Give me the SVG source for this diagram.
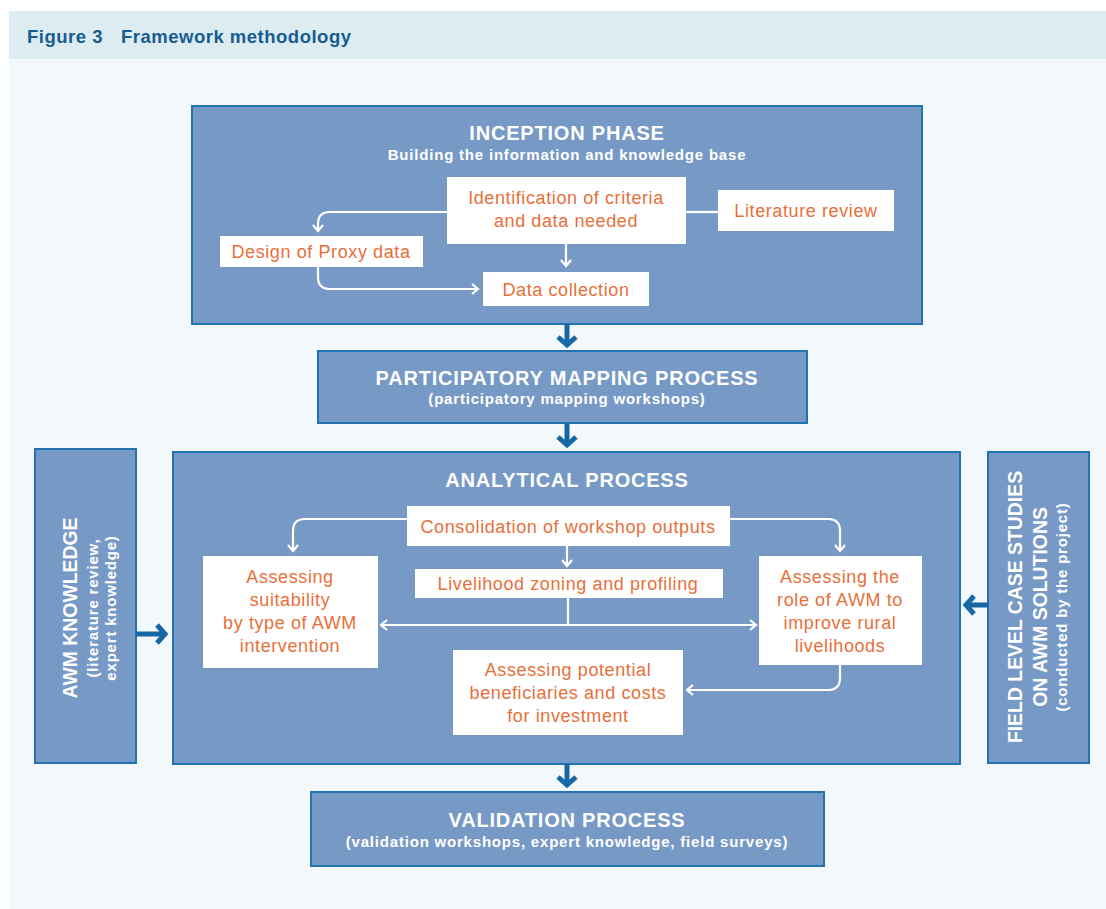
<svg xmlns="http://www.w3.org/2000/svg" width="1106" height="909" viewBox="0 0 1106 909">
<defs>
<style>
.blk{fill:#7799c6;stroke:#2373b2;stroke-width:2}
.wb{fill:#ffffff}
.ot{font-family:"Liberation Sans",Arial,sans-serif;font-size:18px;letter-spacing:0.6px;fill:#e86f39;text-anchor:middle}
.ht{font-family:"Liberation Sans",Arial,sans-serif;font-weight:bold;font-size:20px;letter-spacing:0.8px;fill:#ffffff;text-anchor:middle}
.vt{font-family:"Liberation Sans",Arial,sans-serif;font-weight:bold;font-size:19.4px;letter-spacing:0;fill:#ffffff;text-anchor:middle}
.st{font-family:"Liberation Sans",Arial,sans-serif;font-weight:bold;font-size:15px;letter-spacing:0.8px;fill:#ffffff;text-anchor:middle}
.wl{fill:none;stroke:#ffffff;stroke-width:2.2}
.bl{fill:none;stroke:#1667a6;stroke-width:5}
</style>
</defs>
<rect x="0" y="0" width="1106" height="909" fill="#ffffff"/>
<rect x="9" y="11" width="1097" height="898" fill="#f2f8fb"/>
<rect x="9" y="11" width="1097" height="48" fill="#dcecf1"/>
<text x="27" y="43" font-family="'Liberation Sans',Arial,sans-serif" font-weight="bold" font-size="18.5" letter-spacing="0.5" fill="#175d92">Figure 3<tspan x="121">Framework methodology</tspan></text>

<g id="inception">
<rect class="blk" x="192" y="106" width="730" height="218"/>
<text class="ht" x="567" y="140">INCEPTION PHASE</text>
<text class="st" x="567" y="160">Building the information and knowledge base</text>
</g>
<g id="identification">
<rect class="wb" x="447" y="177" width="239" height="67"/>
<text class="ot" x="566" y="204">Identification of criteria</text>
<text class="ot" x="566" y="227">and data needed</text>
</g>
<g id="literature">
<rect class="wb" x="718" y="190" width="176" height="41"/>
<text class="ot" x="806" y="217">Literature review</text>
</g>
<g id="proxy">
<rect class="wb" x="220" y="236" width="203" height="31"/>
<text class="ot" x="321" y="258">Design of Proxy data</text>
</g>
<g id="datacollection">
<rect class="wb" x="483" y="272" width="166" height="34"/>
<text class="ot" x="566" y="296">Data collection</text>
</g>

<g id="participatory">
<rect class="blk" x="318" y="351" width="489" height="72"/>
<text class="ht" x="567" y="385">PARTICIPATORY MAPPING PROCESS</text>
<text class="st" x="567" y="404">(participatory mapping workshops)</text>
</g>

<g id="analytical">
<rect class="blk" x="173" y="452" width="787" height="312"/>
<text class="ht" x="567" y="487">ANALYTICAL PROCESS</text>
</g>
<g id="consolidation">
<rect class="wb" x="407" y="506" width="323" height="40"/>
<text class="ot" x="568" y="533">Consolidation of workshop outputs</text>
</g>
<g id="livelihood">
<rect class="wb" x="415" y="569" width="308" height="29"/>
<text class="ot" x="568" y="590">Livelihood zoning and profiling</text>
</g>
<g id="suitability">
<rect class="wb" x="203" y="556" width="175" height="112"/>
<text class="ot" x="290" y="583">Assessing</text>
<text class="ot" x="290" y="606">suitability</text>
<text class="ot" x="290" y="629">by type of AWM</text>
<text class="ot" x="290" y="652">intervention</text>
</g>
<g id="role">
<rect class="wb" x="759" y="556" width="163" height="109"/>
<text class="ot" x="840" y="583">Assessing the</text>
<text class="ot" x="840" y="606">role of AWM to</text>
<text class="ot" x="840" y="629">improve rural</text>
<text class="ot" x="840" y="652">livelihoods</text>
</g>
<g id="potential">
<rect class="wb" x="453" y="650" width="230" height="85"/>
<text class="ot" x="568" y="676">Assessing  potential</text>
<text class="ot" x="568" y="699">beneficiaries and costs</text>
<text class="ot" x="568" y="722">for investment</text>
</g>

<g id="awmknowledge">
<rect class="blk" x="35" y="449" width="101" height="314"/>
<text class="vt" transform="translate(77,608) rotate(-90)">AWM KNOWLEDGE</text>
<text class="st" transform="translate(98,608) rotate(-90)">(literature review,</text>
<text class="st" transform="translate(116,608) rotate(-90)">expert knowledge)</text>
</g>
<g id="fieldlevel">
<rect class="blk" x="988" y="452" width="101" height="311"/>
<text class="vt" transform="translate(1022,607) rotate(-90)">FIELD LEVEL CASE STUDIES</text>
<text class="vt" transform="translate(1047,607) rotate(-90)">ON AWM SOLUTIONS</text>
<text class="st" transform="translate(1067,607) rotate(-90)">(conducted by the project)</text>
</g>

<g id="validation">
<rect class="blk" x="311" y="792" width="513" height="74"/>
<text class="ht" x="567" y="827">VALIDATION PROCESS</text>
<text class="st" x="567" y="847">(validation workshops, expert knowledge, field surveys)</text>
</g>

<g id="connectors">
<path class="wl" d="M447 212 H330 Q318 212 318 224 V231"/>
<path class="wl" d="M313 225 L318 231 L323 225"/>
<path class="wl" d="M686 212 H718"/>
<path class="wl" d="M566 244 V266"/>
<path class="wl" d="M561 260 L566 266 L571 260"/>
<path class="wl" d="M318 267 V277 Q318 289 330 289 H478"/>
<path class="wl" d="M472 284 L478 289 L472 294"/>
<path class="wl" d="M407 519 H305 Q293 519 293 531 V551"/>
<path class="wl" d="M288 545 L293 551 L298 545"/>
<path class="wl" d="M730 519 H828 Q840 519 840 531 V551"/>
<path class="wl" d="M835 545 L840 551 L845 545"/>
<path class="wl" d="M567 546 V566"/>
<path class="wl" d="M562 560 L567 566 L572 560"/>
<path class="wl" d="M568 598 V625"/>
<path class="wl" d="M381 625 H756"/>
<path class="wl" d="M387 620 L381 625 L387 630"/>
<path class="wl" d="M750 620 L756 625 L750 630"/>
<path class="wl" d="M840 665 V678 Q840 690 828 690 H687"/>
<path class="wl" d="M693 685 L687 690 L693 695"/>
<path class="bl" d="M567 324 V345"/>
<path class="bl" d="M558 337 L567 345 L576 337"/>
<path class="bl" d="M567 423 V445"/>
<path class="bl" d="M558 437 L567 445 L576 437"/>
<path class="bl" d="M567 764 V785"/>
<path class="bl" d="M558 777 L567 785 L576 777"/>
<path class="bl" d="M136 634 H165"/>
<path class="bl" d="M157 625 L165 634 L157 643"/>
<path class="bl" d="M988 605 H966"/>
<path class="bl" d="M974 596 L966 605 L974 614"/>
</g>
</svg>
